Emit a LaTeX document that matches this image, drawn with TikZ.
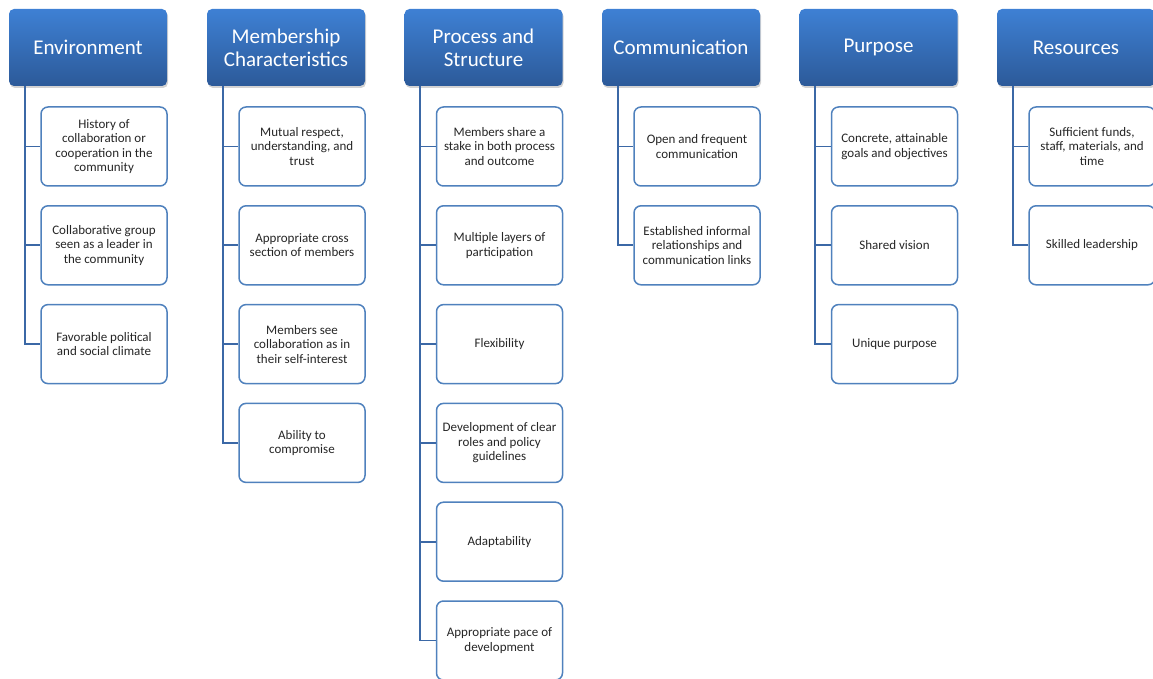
\documentclass[tikz,border=0pt]{standalone}
\usepackage{fontspec}
\setmainfont{Carlito}
\usepackage{xcolor}
\definecolor{headtop}{HTML}{3E80D4}
\definecolor{headbot}{HTML}{2C5A99}
\definecolor{boxline}{HTML}{4F81BD}
\definecolor{linkline}{HTML}{3B68A6}
\usepackage{tikz}
\usetikzlibrary{positioning, shadows}

\begin{document}
\begin{tikzpicture}[x=1pt, y=-1pt,
  head/.style={rectangle, rounded corners=5pt, top color=headtop, bottom color=headbot,
    draw=none, text=white, minimum width=158pt, minimum height=77pt, inner sep=2pt,
    align=center, font=\fontsize{21}{23}\selectfont,
    drop shadow={shadow xshift=1pt, shadow yshift=-2pt, opacity=0.35}},
  item/.style={rectangle, rounded corners=7pt, draw=boxline, line width=1.5pt, fill=white,
    minimum width=126pt, minimum height=79pt, inner sep=2pt, align=center,
    text=black!85, font=\fontsize{13}{14.5}\selectfont},
  link/.style={draw=linkline, line width=1.7pt}]
  \useasboundingbox (0,0) rectangle (1153,679);
  \begin{scope}
  \clip (0,0) rectangle (1153,679);

  % Environment
  \node[head] (env) at (88, 47.5) {Environment};
  \node[item] (env1) at (104, 146.5) {History of\\collaboration or\\cooperation in the\\community};
  \node[item] (env2) at (104, 245.3) {Collaborative group\\seen as a leader in\\the community};
  \node[item] (env3) at (104, 344.1) {Favorable political\\and social climate};
  \draw[link] ([xshift=16pt]env.south west) |- (env1.west);
  \draw[link] ([xshift=16pt]env.south west) |- (env2.west);
  \draw[link] ([xshift=16pt]env.south west) |- (env3.west);

  % Membership Characteristics
  \node[head] (mem) at (286, 47.5) {Membership\\Characteristics};
  \node[item] (mem1) at (302, 146.5) {Mutual respect,\\understanding, and\\trust};
  \node[item] (mem2) at (302, 245.3) {Appropriate cross\\section of members};
  \node[item] (mem3) at (302, 344.1) {Members see\\collaboration as in\\their self-interest};
  \node[item] (mem4) at (302, 442.9) {Ability to\\compromise};
  \foreach \k in {1,...,4}
    \draw[link] ([xshift=16pt]mem.south west) |- (mem\k.west);

  % Process and Structure
  \node[head] (proc) at (483.5, 47.5) {Process and\\Structure};
  \node[item] (proc1) at (499.5, 146.5) {Members share a\\stake in both process\\and outcome};
  \node[item] (proc2) at (499.5, 245.3) {Multiple layers of\\participation};
  \node[item] (proc3) at (499.5, 344.1) {Flexibility};
  \node[item] (proc4) at (499.5, 442.9) {Development of clear\\roles and policy\\guidelines};
  \node[item] (proc5) at (499.5, 541.7) {Adaptability};
  \node[item] (proc6) at (499.5, 640.5) {Appropriate pace of\\development};
  \foreach \k in {1,...,6}
    \draw[link] ([xshift=16pt]proc.south west) |- (proc\k.west);

  % Communication
  \node[head] (comm) at (681, 47.5) {Communication};
  \node[item] (comm1) at (697, 146.5) {Open and frequent\\communication};
  \node[item] (comm2) at (697, 245.3) {Established informal\\relationships and\\communication links};
  \draw[link] ([xshift=16pt]comm.south west) |- (comm1.west);
  \draw[link] ([xshift=16pt]comm.south west) |- (comm2.west);

  % Purpose
  \node[head] (purp) at (878.5, 47.5) {Purpose};
  \node[item] (purp1) at (894.5, 146.5) {Concrete, attainable\\goals and objectives};
  \node[item] (purp2) at (894.5, 245.3) {Shared vision};
  \node[item] (purp3) at (894.5, 344.1) {Unique purpose};
  \foreach \k in {1,...,3}
    \draw[link] ([xshift=16pt]purp.south west) |- (purp\k.west);

  % Resources
  \node[head] (res) at (1076, 47.5) {Resources};
  \node[item] (res1) at (1092, 146.5) {Sufficient funds,\\staff, materials, and\\time};
  \node[item] (res2) at (1092, 245.3) {Skilled leadership};
  \draw[link] ([xshift=16pt]res.south west) |- (res1.west);
  \draw[link] ([xshift=16pt]res.south west) |- (res2.west);
  \end{scope}
\end{tikzpicture}
\end{document}
